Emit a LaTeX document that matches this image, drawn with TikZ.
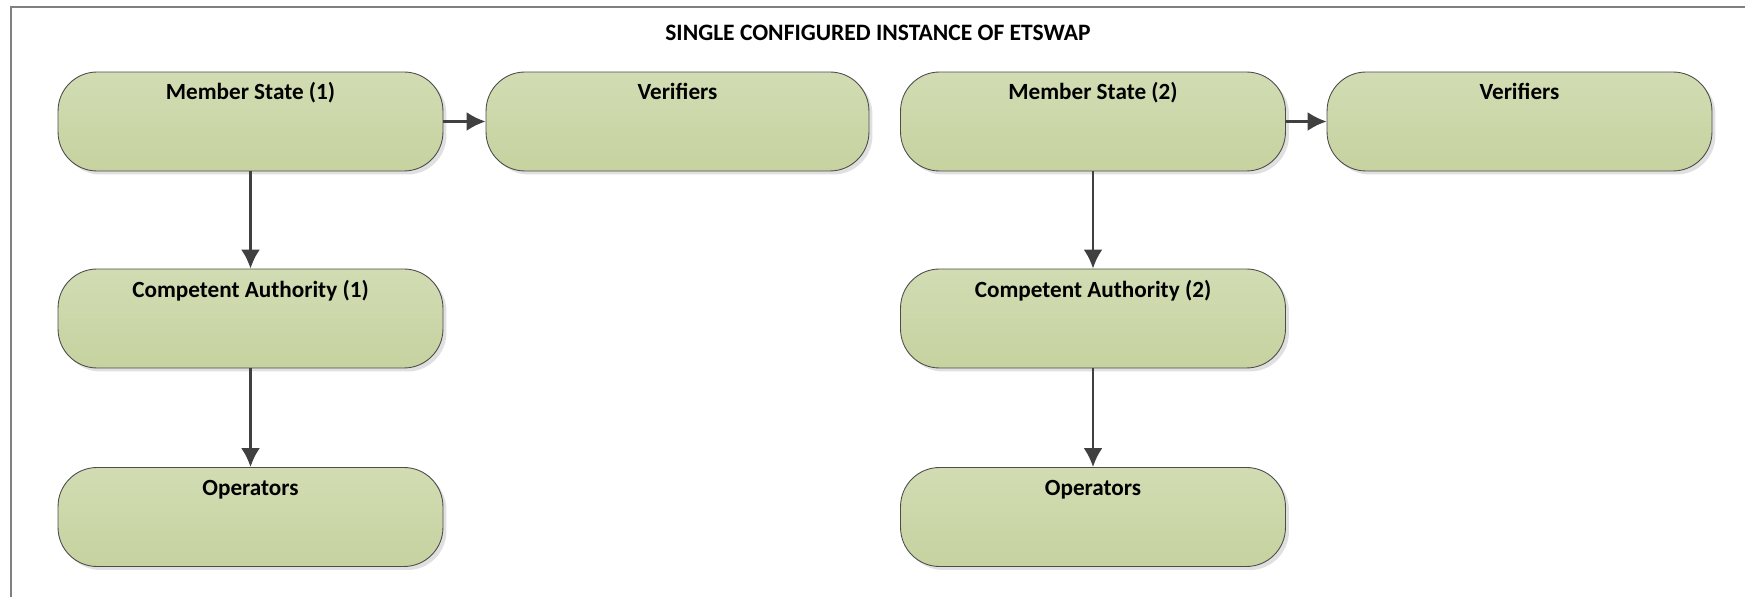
\documentclass[tikz,border=0pt]{standalone}
\usepackage{fontspec}
\setmainfont{Carlito}
\usetikzlibrary{arrows.meta,shadows}
\definecolor{boxtop}{RGB}{209,220,179}
\definecolor{boxbot}{RGB}{199,210,160}
\definecolor{arrowgray}{RGB}{64,64,64}
\begin{document}
\begin{tikzpicture}[x=0.02cm, y=-0.02cm,
	unit/.style={rectangle, rounded corners=0.78cm, draw=black!70, line width=0.5pt,
		top color=boxtop, bottom color=boxbot,
		general shadow={fill=black!12, shadow xshift=0.07cm, shadow yshift=-0.07cm},
		minimum width=7.7cm, inner xsep=0pt, inner ysep=0pt,
		text height=0.56cm, text depth=1.42cm,
		font=\fontsize{13.2}{15}\selectfont\bfseries},
	link/.style={-{Latex[length=0.38cm, width=0.38cm]}, draw=arrowgray, line width=1.5pt}]
	\useasboundingbox (0,0) rectangle (1745,597);
	\draw[black!50, line width=0.6pt] (1745,7) -- (11,7) -- (11,597);
	\node (title) at (878, 33)	[font=\fontsize{13.4}{15}\selectfont\bfseries]	{SINGLE CONFIGURED INSTANCE OF ETSWAP};
	\node (MS1) at ( 250.5, 121.5)	[unit]	{Member State (1)};
	\node (V1)  at ( 677.5, 121.5)	[unit, minimum width=7.66cm]	{Verifiers};
	\node (CA1) at ( 250.5, 318.5)	[unit]	{Competent Authority (1)};
	\node (OP1) at ( 250.5, 517)	[unit]	{Operators};
	\node (MS2) at (1093, 121.5)	[unit]	{Member State (2)};
	\node (V2)  at (1519.5, 121.5)	[unit]	{Verifiers};
	\node (CA2) at (1093, 318.5)	[unit]	{Competent Authority (2)};
	\node (OP2) at (1093, 517)	[unit]	{Operators};
	\draw[link] (MS1) -- (V1);
	\draw[link] (MS1) -- (CA1);
	\draw[link] (CA1) -- (OP1);
	\draw[link] (MS2) -- (V2);
	\draw[link] (MS2) -- (CA2);
	\draw[link] (CA2) -- (OP2);
\end{tikzpicture}
\end{document}
